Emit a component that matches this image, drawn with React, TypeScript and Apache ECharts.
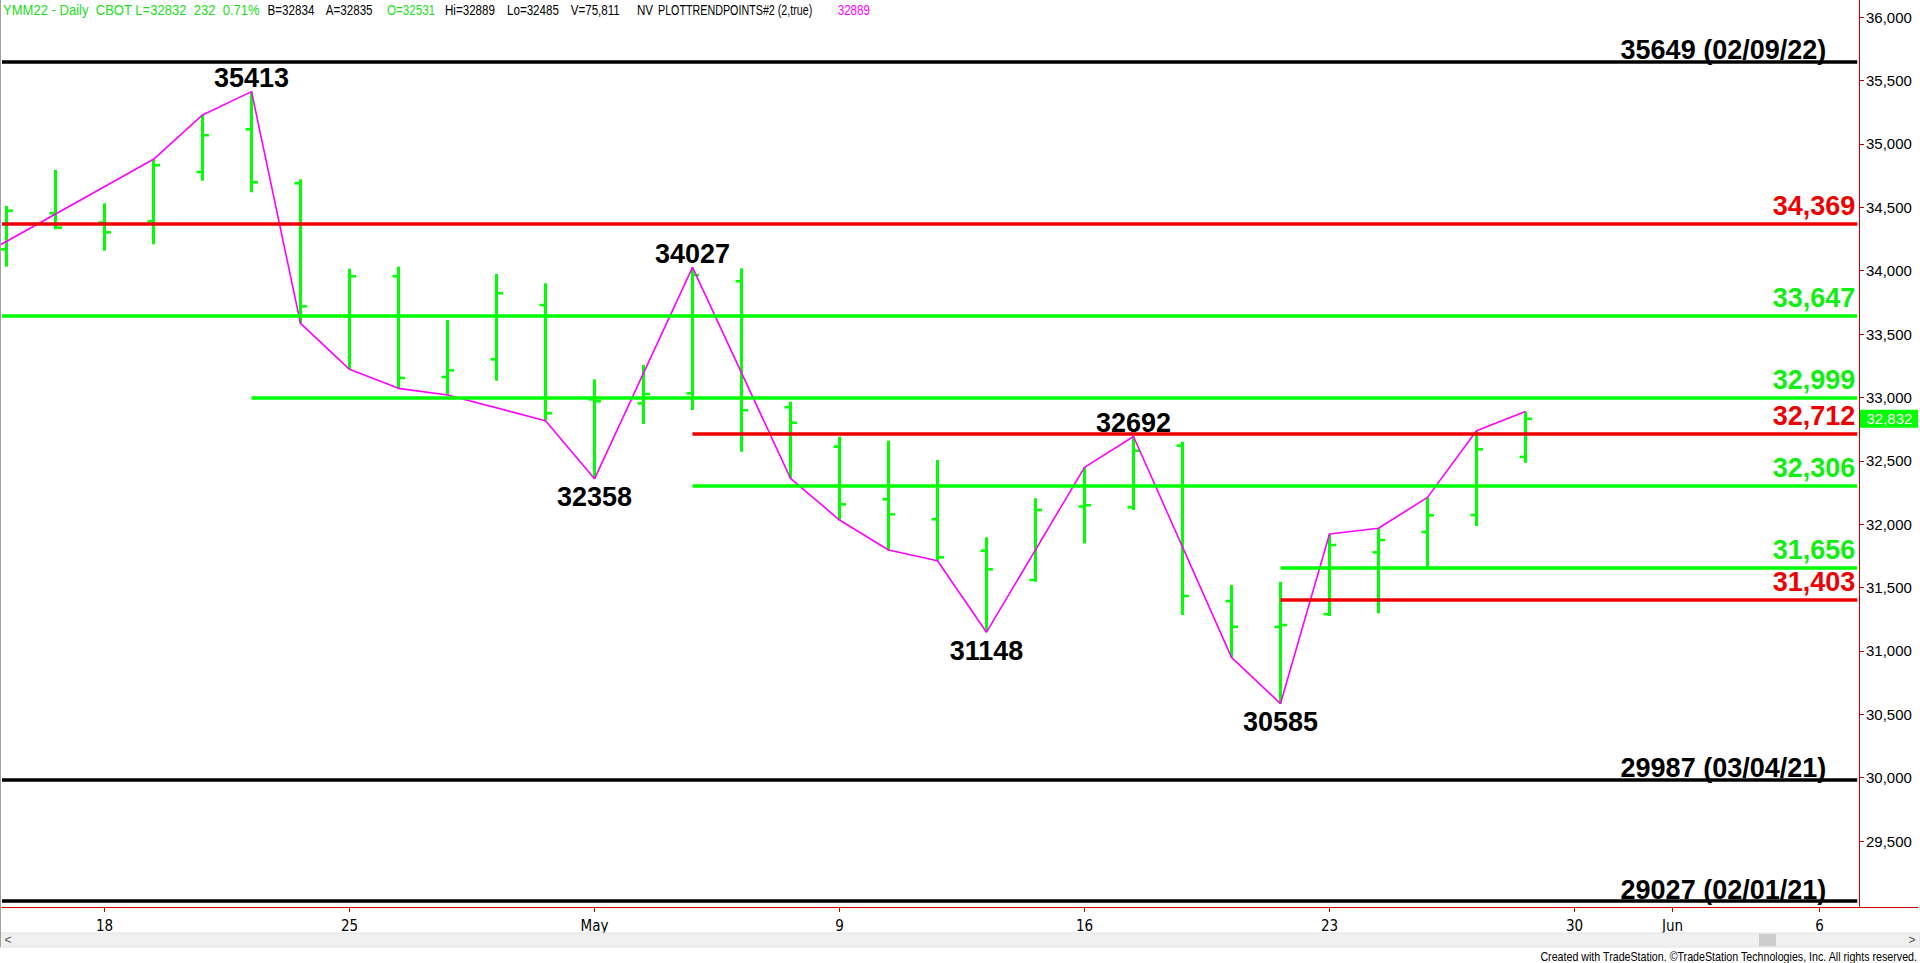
import { useEffect, useRef } from 'react';
import * as echarts from 'echarts';

// ---------- DATA ----------
const dates = [
  '2022-04-13', '2022-04-14', '2022-04-18', '2022-04-19', '2022-04-20', '2022-04-21', '2022-04-22',
  '2022-04-25', '2022-04-26', '2022-04-27', '2022-04-28', '2022-04-29', '2022-05-02', '2022-05-03',
  '2022-05-04', '2022-05-05', '2022-05-06', '2022-05-09', '2022-05-10', '2022-05-11', '2022-05-12',
  '2022-05-13', '2022-05-16', '2022-05-17', '2022-05-18', '2022-05-19', '2022-05-20', '2022-05-23',
  '2022-05-24', '2022-05-25', '2022-05-26', '2022-05-27',
];
const opens = [
  34169, 34453, 34380, 34390, 34779, 35116, 34690, 33637, 33956, 33162, 33301, 33730, 32985, 32954,
  33033, 33917, 32923, 32612, 32197, 32039, 31791, 31560, 32140, 32133, 32620, 31394, 31190, 31290,
  31778, 31939, 32073, 32531,
];
const highs = [
  34511, 34795, 34532, 34879, 35229, 35413, 34721, 34016, 34032, 33611, 33974, 33901, 33143, 33256,
  34027, 34019, 32967, 32690, 32659, 32507, 31897, 32205, 32449, 32692, 32651, 31520, 31546, 31923,
  31968, 32212, 32738, 32889,
];
const lows = [
  34032, 34327, 34158, 34209, 34710, 34619, 33585, 33222, 33072, 33020, 33132, 32817, 32358, 32791,
  32901, 32572, 32362, 32033, 31797, 31712, 31148, 31546, 31849, 32112, 31284, 30950, 30585, 31276,
  31297, 31665, 31986, 32485,
];
const closes = [
  34474, 34340, 34303, 34832, 35069, 34698, 33719, 33956, 33154, 33214, 33822, 32875, 32970, 33027,
  33966, 32899, 32801, 32157, 32078, 31739, 31644, 32112, 32150, 32580, 31434, 31191, 31205, 31836,
  31875, 32070, 32591, 32832,
];

// PLOTTRENDPOINTS zig-zag (bar index, value); index -1 is the bar before the first visible one
const trendIndex = [-1, 3, 4, 5, 6, 7, 8, 9, 11, 12, 14, 16, 17, 18, 19, 20, 22, 23, 25, 26, 27, 28, 29, 30, 31];
const trendValue = [
  34015, 34879, 35229, 35413, 33585, 33222, 33072, 33020, 32817, 32358, 34027, 32362, 32033, 31797,
  31712, 31148, 32449, 32692, 30950, 30585, 31923, 31968, 32212, 32738, 32889,
];

const swingHighIndex = [5, 14, 23];
const swingHighValue = [35413, 34027, 32692];
const swingLowIndex = [12, 20, 26];
const swingLowValue = [32358, 31148, 30585];

const levelValues = [35649, 34369, 33647, 32999, 32712, 32306, 31656, 31403, 29987, 29027];
const levelLabels = [
  '35649 (02/09/22)', '34,369', '33,647', '32,999', '32,712', '32,306', '31,656', '31,403',
  '29987 (03/04/21)', '29027 (02/01/21)',
];
const levelKinds = ['hist', 'res', 'sup', 'sup', 'res', 'sup', 'sup', 'res', 'hist', 'hist'];
const levelStartIndex = [null, null, null, 5, 14, 14, 26, 26, null, null];

const xTickIndex = [2, 7, 12, 17, 22, 27, 32, 34, 37];
const xTickLabels = ['18', '25', 'May', '9', '16', '23', '30', 'Jun', '6'];
const yTickValues = [29500, 30000, 30500, 31000, 31500, 32000, 32500, 33000, 33500, 34000, 34500, 35000, 35500, 36000];

const symbolName = 'YMM22';
const bid = 32834;
const ask = 32835;
const netChange = 232;
const pctChange = '0.71%';
const volume = '75,811';

// ---------- STYLE ----------
const GREEN = '#00ff00';
const TEXT_GREEN = '#11ee11';
const RED = '#ee0000';
const MAGENTA = '#ff00ff';
const AXIS_RED = '#c80000';
const FONT = '"Liberation Sans", Arial, sans-serif';
const X_MIN = -0.092;
const X_MAX = 37.806;
const LINE_END = 37.77;

const kindColor: Record<string, string> = { hist: '#000000', res: RED, sup: GREEN };
const kindText: Record<string, string> = { hist: '#000000', res: RED, sup: TEXT_GREEN };

export default function App() {
  const ref = useRef<HTMLDivElement>(null);

  useEffect(() => {
    if (!ref.current) return;
    const chart = echarts.init(ref.current, undefined, { renderer: 'svg' });

    const barData = dates.map((d, i) => [i, opens[i], highs[i], lows[i], closes[i]]);

    const markLineData = levelValues.map((v, i) => {
      const kind = levelKinds[i];
      const start = levelStartIndex[i] === null ? X_MIN : (levelStartIndex[i] as number);
      const isHist = kind === 'hist';
      return [
        {
          coord: [start, v],
          lineStyle: { color: kindColor[kind], width: 3.6, type: 'solid' },
          label: {
            show: true,
            formatter: levelLabels[i],
            position: 'insideEndTop',
            distance: isHist ? [31, -2] : [2, 4],
            color: kindText[kind],
            fontSize: 27,
            fontWeight: 'bold',
            fontFamily: FONT,
          },
        },
        { coord: [LINE_END, v] },
      ];
    });

    const swingLabel = {
      show: true,
      formatter: (p: any) => String(p.value[1]),
      color: '#000000',
      opacity: 1,
      fontSize: 27,
      fontWeight: 'bold',
      fontFamily: FONT,
    };

    const option: any = {
      animation: false,
      backgroundColor: '#ffffff',
      textStyle: { fontFamily: FONT },
      grid: { left: 2, right: 61, top: 0, bottom: 56, containLabel: false },
      xAxis: {
        type: 'value',
        min: X_MIN,
        max: X_MAX,
        axisLine: { show: true, onZero: false, lineStyle: { color: AXIS_RED, width: 1 } },
        axisTick: { show: true, length: 5, lineStyle: { color: AXIS_RED }, customValues: xTickIndex },
        axisLabel: {
          customValues: xTickIndex,
          formatter: (v: number) => {
            const k = xTickIndex.indexOf(Math.round(v));
            return k >= 0 ? xTickLabels[k] : '';
          },
          color: '#000',
          fontSize: 15,
          fontFamily: '"Liberation Sans Narrow", "Arial Narrow", "DejaVu Sans Condensed", sans-serif',
          margin: 11,
        },
        splitLine: { show: false },
      },
      yAxis: {
        type: 'value',
        position: 'right',
        min: 28980,
        max: 36136,
        axisLine: { show: true, onZero: false, lineStyle: { color: AXIS_RED, width: 1 } },
        axisTick: { show: true, length: 5, lineStyle: { color: AXIS_RED }, customValues: yTickValues },
        axisLabel: {
          customValues: yTickValues,
          formatter: (v: number) => v.toLocaleString('en-US'),
          color: '#000',
          fontSize: 15,
          fontFamily: FONT,
          margin: 7,
        },
        splitLine: { show: false },
      },
      series: [
        {
          type: 'custom',
          name: 'bars',
          z: 2,
          data: barData,
          encode: { x: 0, y: [1, 2, 3, 4] },
          renderItem: (params: any, api: any) => {
            const x = api.value(0);
            const o = api.coord([x, api.value(1)]);
            const h = api.coord([x, api.value(2)]);
            const l = api.coord([x, api.value(3)]);
            const c = api.coord([x, api.value(4)]);
            return {
              type: 'group',
              children: [
                { type: 'line', shape: { x1: h[0], y1: h[1], x2: l[0], y2: l[1] }, style: { stroke: GREEN, lineWidth: 3 } },
                { type: 'line', shape: { x1: o[0] - 6, y1: o[1], x2: o[0], y2: o[1] }, style: { stroke: GREEN, lineWidth: 2.5 } },
                { type: 'line', shape: { x1: c[0], y1: c[1], x2: c[0] + 6.5, y2: c[1] }, style: { stroke: GREEN, lineWidth: 2.5 } },
              ],
            };
          },
        },
        {
          type: 'line',
          name: 'levels',
          z: 3,
          data: [],
          silent: true,
          markLine: {
            silent: true,
            symbol: ['none', 'none'],
            animation: false,
            data: markLineData,
          },
        },
        {
          type: 'line',
          name: 'trend',
          z: 4,
          data: trendIndex.map((x, i) => [x, trendValue[i]]),
          symbol: 'none',
          clip: true,
          lineStyle: { color: MAGENTA, width: 1.6 },
          silent: true,
        },
        {
          type: 'scatter',
          name: 'swingHighs',
          z: 5,
          data: swingHighIndex.map((x, i) => [x, swingHighValue[i]]),
          symbolSize: 0,
          itemStyle: { color: MAGENTA, opacity: 1 },
          silent: true,
          label: { ...swingLabel, position: 'top', distance: 0 },
        },
        {
          type: 'scatter',
          name: 'swingLows',
          z: 5,
          data: swingLowIndex.map((x, i) => [x, swingLowValue[i]]),
          symbolSize: 0,
          itemStyle: { color: MAGENTA, opacity: 1 },
          silent: true,
          label: { ...swingLabel, position: 'bottom', distance: 5 },
        },
      ],
    };

    chart.setOption(option);

    const last = closes.length - 1;
    const py = chart.convertToPixel({ yAxisIndex: 0 }, closes[last]) as number;

    const hdrFont = '14.5px "Liberation Sans", Arial, sans-serif';
    const hdrTokens: { t: string; x: number; c: string; s: number }[] = [
      { t: `${symbolName} - Daily  CBOT L=${closes[last]}  ${netChange}  ${pctChange}`, x: 3, c: '#22dd22', s: 0.9 },
      { t: `B=${bid}`, x: 267.6, c: '#000', s: 0.8 },
      { t: `A=${ask}`, x: 325.8, c: '#000', s: 0.8 },
      { t: `O=${opens[last]}`, x: 387, c: '#22dd22', s: 0.8 },
      { t: `Hi=${highs[last]}`, x: 445, c: '#000', s: 0.8 },
      { t: `Lo=${lows[last]}`, x: 507, c: '#000', s: 0.8 },
      { t: `V=${volume}`, x: 570.7, c: '#000', s: 0.8 },
      { t: 'NV', x: 637, c: '#000', s: 0.8 },
      { t: 'PLOTTRENDPOINTS#2 (2,true)', x: 658, c: '#000', s: 0.74 },
      { t: `${highs[last]}`, x: 837.7, c: MAGENTA, s: 0.8 },
    ];

    const graphics: any[] = [
      // scroll bar strip
      { type: 'rect', shape: { x: 0, y: 933, width: 1920, height: 14 }, style: { fill: '#f0f0f0', stroke: '#e3e3e3' }, z: 1 },
      { type: 'text', x: 8, y: 940, style: { text: '<', fill: '#555', font: '12px "Liberation Sans", Arial', textAlign: 'center', textVerticalAlign: 'middle' }, z: 2 },
      { type: 'text', x: 1912, y: 940, style: { text: '>', fill: '#555', font: '12px "Liberation Sans", Arial', textAlign: 'center', textVerticalAlign: 'middle' }, z: 2 },
      { type: 'rect', shape: { x: 1759, y: 934, width: 17, height: 12 }, style: { fill: '#cdcdcd' }, z: 2 },
      // bottom axis extension & frame
      { type: 'line', shape: { x1: 1859, y1: 907.5, x2: 1918, y2: 907.5 }, style: { stroke: AXIS_RED, lineWidth: 1 }, z: 2 },
      { type: 'line', shape: { x1: 0.5, y1: 0, x2: 0.5, y2: 947 }, style: { stroke: '#a0a0a0', lineWidth: 1 }, z: 2 },
      // price tag
      { type: 'rect', shape: { x: 1860, y: py - 9, width: 58, height: 18 }, style: { fill: '#00ff00' }, z: 10 },
      {
        type: 'text', x: 1866.5, y: py,
        style: { text: closes[last].toLocaleString('en-US'), fill: '#ffffff', font: '15px "Liberation Sans", Arial', textVerticalAlign: 'middle' },
        z: 11,
      },
      // footer
      {
        type: 'text', x: 1917, y: 957, scaleX: 0.89,
        style: {
          text: 'Created with TradeStation. \u00A9TradeStation Technologies, Inc. All rights reserved.',
          fill: '#000', font: '12px "Liberation Sans", Arial', textAlign: 'right', textVerticalAlign: 'middle',
        },
        z: 2,
      },
      ...hdrTokens.map((tk) => ({
        type: 'text', x: tk.x, y: 10, scaleX: tk.s,
        style: { text: tk.t, fill: tk.c, font: hdrFont, textVerticalAlign: 'middle' },
        z: 12,
      })),
    ];

    chart.setOption({ graphic: graphics });

    return () => chart.dispose();
  }, []);

  return (
    <div
      ref={ref}
      style={{ position: 'fixed', left: 0, top: 0, width: 1920, height: 963, background: '#fff' }}
    />
  );
}
